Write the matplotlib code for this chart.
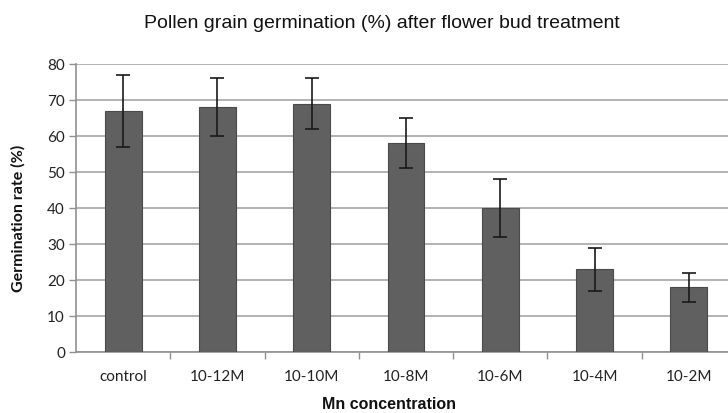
import numpy as np
import matplotlib.pyplot as plt
from matplotlib.ticker import MultipleLocator, FixedLocator

# 数据
categories = ['control', '10-12M', '10-10M', '10-8M', '10-6M', '10-4M', '10-2M']
germination = [67, 68, 69, 58, 40, 23, 18]
errors = [10, 8, 7, 7, 8, 6, 4]

fig = plt.figure(figsize=(7.28, 4.14), dpi=100)
# 原图右边被裁掉了一点，所以坐标轴超出画布
ax = fig.add_axes([76 / 728, 1 - 353 / 414, 660 / 728, 288 / 414])

x = np.arange(len(categories))
ax.bar(x, germination, width=0.39, color='#606060', edgecolor='#4a4a4a', lw=0.8,
       yerr=errors, error_kw=dict(ecolor='#1a1a1a', elinewidth=1.2, capsize=5, capthick=1.2),
       zorder=3)

ax.set_xlim(-0.5, len(categories) - 0.5)
ax.set_ylim(0, 80)
ax.yaxis.set_major_locator(MultipleLocator(10))
ax.grid(axis='y', color='#a6a6a6', lw=1.2, zorder=0)

ax.set_xticks(x)
ax.set_xticklabels(categories, fontsize=11, family='Lato', color='#222222')
ax.xaxis.set_minor_locator(FixedLocator(np.arange(0.5, len(categories), 1.0)))
ax.tick_params(axis='x', which='major', length=0, pad=12)
ax.tick_params(axis='x', which='minor', length=5, color='#909090', width=1)
ax.tick_params(axis='y', length=5, color='#909090', width=1, labelsize=11, pad=3)
for lab in ax.get_yticklabels():
    lab.set_family('Lato')
    lab.set_color('#222222')

for side in ['top', 'right']:
    ax.spines[side].set_visible(False)
ax.spines['left'].set_color('#909090')
ax.spines['bottom'].set_color('#909090')
ax.spines['left'].set_linewidth(1.2)
ax.spines['bottom'].set_linewidth(1.2)

fig.text(382 / 728, 1 - 24 / 414, 'Pollen grain germination (%) after flower bud treatment',
         ha='center', va='center', fontsize=14, family='Liberation Sans', color='#111111')
fig.text(389 / 728, 1 - 405 / 414, 'Mn concentration', ha='center', va='center',
         fontsize=11.5, family='Liberation Sans', fontweight='bold', color='#111111')
fig.text(18 / 728, 1 - 218 / 414, 'Germination rate (%)', ha='center', va='center',
         rotation=90, fontsize=11.5, family='Lato', fontweight='bold', color='#111111')

plt.savefig('out.png', dpi=100)
